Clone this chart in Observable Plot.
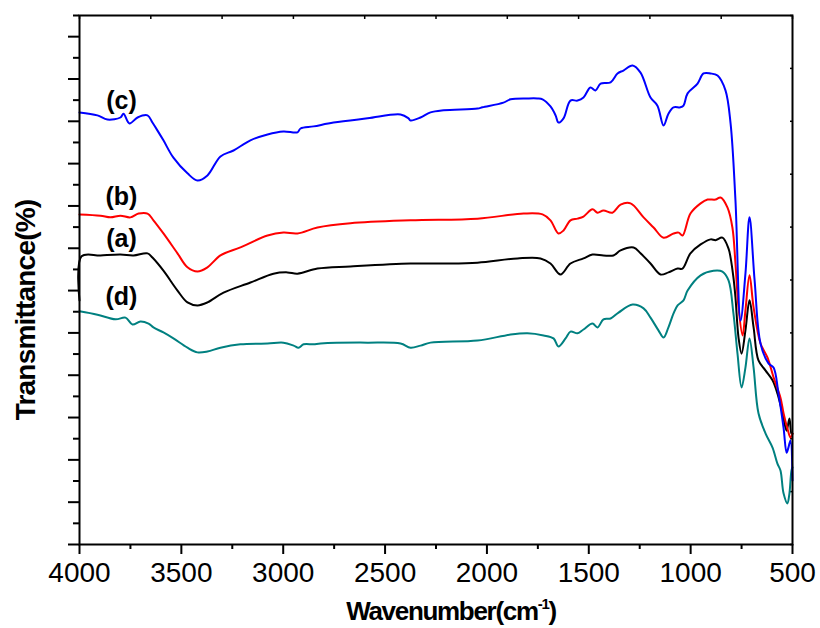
<!DOCTYPE html>
<html><head><meta charset="utf-8">
<script src="https://cdn.jsdelivr.net/npm/d3@7"></script>
<script src="https://cdn.jsdelivr.net/npm/@observablehq/plot@0.6"></script>
<style>html,body{margin:0;padding:0;background:#fff;} svg{display:block;}</style>
</head><body><div id="chart"></div>
<script>
// Wavenumber (cm-1) and transmittance (arbitrary, offset) for each spectrum
const waveA = [4000,3990,3897,3799,3735,3666,3642,3588,3519,3470,3421,3372,3293,3161,3048,2979,2930,2832,2670,2375,2213,2046,1850,1737,1688,1639,1590,1526,1482,1428,1379,1344,1280,1246,1197,1148,1109,1064,1040,1001,951,902,878,844,814,804,790,780,765,750,731,711,691,667,632,598,574,549,529,515,505,500];
const transA = [57.7,68.1,68.3,68.5,68.3,68.8,67.8,64.7,60.0,57.2,56.5,57.2,59.5,61.9,64.0,64.3,64.0,65.2,65.7,66.4,66.4,66.6,67.6,67.6,66.4,63.8,66.4,67.6,68.5,68.3,68.3,69.5,70.2,68.8,66.4,63.8,64.3,65.2,65.2,68.8,70.9,72.1,71.9,72.5,69.9,67.8,63.1,58.4,48.9,45.1,50.6,57.7,51.3,43.5,41.1,38.8,35.7,31.0,26.9,29.8,26.2,26.2];

const waveB = [4000,3897,3848,3799,3750,3710,3666,3637,3588,3519,3470,3421,3372,3308,3210,3077,2999,2930,2832,2670,2375,2046,1820,1727,1688,1649,1624,1590,1555,1526,1482,1457,1428,1384,1344,1295,1231,1182,1133,1084,1059,1040,1001,951,917,878,853,819,795,780,765,745,731,711,691,657,623,593,559,544,525,510,500];
const transB = [78.0,77.7,77.3,77.7,77.3,78.2,78.2,76.6,73.5,68.8,65.5,64.5,65.5,68.3,70.2,73.0,73.7,73.5,74.9,75.9,76.6,77.0,78.2,78.0,76.6,73.5,74.2,76.6,77.0,77.5,79.2,78.4,78.9,78.4,80.3,80.6,77.3,74.9,72.5,73.5,73.7,73.0,78.2,80.6,81.5,81.5,82.0,79.6,74.9,66.4,56.0,49.4,55.3,63.6,56.0,47.5,44.2,39.5,34.7,31.0,27.4,25.3,26.2];

const waveC = [4000,3912,3863,3799,3784,3755,3715,3666,3642,3617,3588,3539,3470,3421,3372,3308,3244,3161,3077,2999,2930,2915,2851,2753,2586,2424,2385,2375,2326,2277,2213,2046,2022,1919,1884,1801,1752,1727,1688,1663,1649,1624,1590,1555,1526,1492,1467,1442,1393,1359,1330,1285,1246,1197,1163,1133,1109,1084,1050,1035,1015,966,937,902,868,829,804,780,755,731,711,686,657,618,593,569,544,529,520,510,500];
const transC = [102.1,101.4,100.4,100.9,101.8,99.5,100.9,101.4,99.7,97.8,95.5,91.4,87.7,86.0,87.2,91.7,93.1,95.5,96.9,97.6,97.4,98.3,98.8,99.7,100.7,101.6,100.7,100.2,100.9,102.1,102.6,103.0,103.3,104.4,105.2,105.4,105.4,105.2,103.5,101.4,99.7,100.7,104.9,104.9,105.6,108.0,107.3,108.9,109.2,111.3,112.0,113.2,111.5,105.6,103.7,99.0,101.8,103.3,103.3,103.7,106.6,108.9,111.3,111.3,110.8,107.3,99.5,81.3,52.9,64.0,77.3,62.4,47.5,42.8,41.8,35.7,27.6,21.7,22.9,24.6,15.1];

const waveD = [4000,3912,3823,3774,3740,3701,3661,3637,3588,3539,3470,3421,3372,3308,3210,3077,2999,2949,2925,2900,2851,2817,2586,2424,2375,2326,2277,2046,1884,1801,1722,1673,1649,1614,1590,1555,1526,1482,1457,1428,1393,1354,1285,1231,1197,1158,1133,1109,1084,1064,1035,1015,951,888,844,814,790,770,750,731,711,691,667,632,598,574,559,544,525,515,505,500];
const transD = [55.1,54.3,53.2,53.6,52.0,52.7,52.2,51.3,50.1,48.7,46.5,45.4,45.6,46.5,47.3,47.5,47.7,47.0,46.5,47.3,47.3,47.5,47.7,47.5,46.5,47.0,47.7,48.2,49.6,49.9,49.4,48.7,46.8,48.7,50.3,49.9,50.8,52.2,51.3,53.2,53.4,54.8,56.7,55.8,53.6,50.6,48.9,51.3,54.6,56.5,57.7,60.0,63.6,64.7,64.5,62.4,54.6,45.1,37.1,41.8,48.7,41.8,31.0,26.2,22.9,19.1,17.5,12.1,9.7,12.1,17.5,18.2];

// Curve labels
const labelText = ["(c)", "(b)", "(a)", "(d)"];
const labelWave = [3794, 3794, 3794, 3794];
const labelTrans = [104.9, 82.2, 72.3, 58.4];

// Ticks
const xMajor = [4000, 3500, 3000, 2500, 2000, 1500, 1000, 500];
const xMinor = [3750, 3250, 2750, 2250, 1750, 1250, 750];
const xTop = [4000, 3650, 3300, 2950, 2600, 2250, 1900, 1550, 1200, 850, 500];
const yMajor = [0, 10, 20, 30, 40, 50, 60, 70, 80, 90, 100, 110, 120];
const yMinor = [5, 15, 25, 35, 45, 55, 65, 75, 85, 95, 105, 115, 125];
const yRight = [0, 12.5, 25, 37.5, 50, 62.5, 75, 87.5, 100, 112.5, 125];

const xTitle = "Wavenumber(cm";
const yTitle = "Transmittance(%)";

const toRows = (wave, trans) => wave.map((w, i) => ({w, t: trans[i]}));
const labels = labelText.map((text, i) => ({text, x: labelWave[i], y: labelTrans[i]}));
const noText = () => "";
const lineOpts = {x: "w", y: "t", strokeWidth: 2, curve: "catmull-rom"};

const chart = Plot.plot({
  width: 820, height: 628,
  marginTop: 15, marginRight: 28, marginBottom: 84, marginLeft: 79,
  style: {fontFamily: "'Liberation Sans', Arial, sans-serif", color: "#000", background: "#fff"},
  x: {domain: [4000, 500]},
  y: {domain: [0, 125]},
  marks: [
    Plot.axisY(yMajor, {anchor: "left", tickSize: 11, strokeWidth: 2, tickFormat: noText, label: null}),
    Plot.axisY(yMinor, {anchor: "left", tickSize: 6, strokeWidth: 2, tickFormat: noText, label: null}),
    Plot.axisY(yRight, {anchor: "right", tickSize: 3, dx: -3, strokeWidth: 1.5, tickFormat: noText, label: null}),
    Plot.axisX(xMajor, {anchor: "bottom", tickSize: 10, tickPadding: 8, strokeWidth: 2, fontSize: 28, tickFormat: d => String(d), label: null}),
    Plot.axisX(xMinor, {anchor: "bottom", tickSize: 5, strokeWidth: 2, tickFormat: noText, label: null}),
    Plot.axisX(xTop, {anchor: "top", tickSize: 3, dy: 3, strokeWidth: 1.5, tickFormat: noText, label: null}),
    Plot.line(toRows(waveD, transD), {...lineOpts, stroke: "#008080"}),
    Plot.line(toRows(waveA, transA), {...lineOpts, stroke: "#000000"}),
    Plot.line(toRows(waveB, transB), {...lineOpts, stroke: "#ff0000"}),
    Plot.line(toRows(waveC, transC), {...lineOpts, stroke: "#0000ff"}),
    Plot.frame({strokeWidth: 2}),
    Plot.text(labels, {x: "x", y: "y", text: "text", fontSize: 25, fontWeight: "bold", fill: "#000"})
  ]
});

const svg = d3.select(chart);
const xt = svg.append("text")
  .attr("x", 451).attr("y", 620)
  .attr("text-anchor", "middle")
  .attr("font-size", 26).attr("font-weight", "bold")
  .attr("letter-spacing", "-1.3px").attr("fill", "#000");
xt.append("tspan").text(xTitle);
xt.append("tspan").attr("font-size", 15).attr("dy", -11).text("-1");
xt.append("tspan").attr("dy", 11).text(")");

svg.append("text")
  .attr("transform", "translate(35,310) rotate(-90)")
  .attr("text-anchor", "middle")
  .attr("font-size", 28).attr("font-weight", "bold")
  .attr("letter-spacing", "-0.8px").attr("fill", "#000")
  .text(yTitle);

document.getElementById("chart").appendChild(chart);
</script>
</body></html>
